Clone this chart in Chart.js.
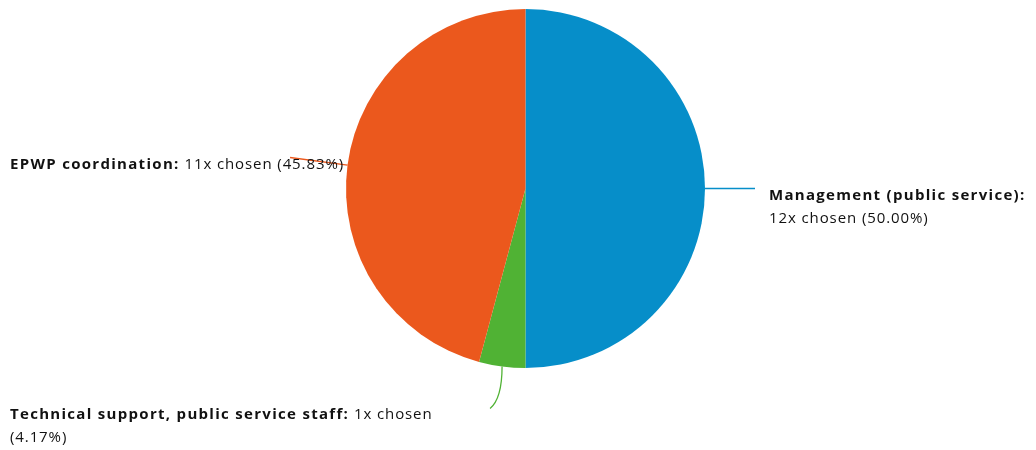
<!DOCTYPE html>
<html>
<head>
<meta charset="utf-8">
<script src="https://cdn.jsdelivr.net/npm/chart.js@4/dist/chart.umd.min.js"></script>
<style>
  html, body { margin: 0; padding: 0; background: #fff; }
  #wrap { width: 1036px; height: 450px; position: relative; }
</style>
</head>
<body>
<div id="wrap"><canvas id="pieChart"></canvas></div>
<script>
// Answer counts, clockwise from the top
const categories = ['Management (public service)', 'Technical support, public service staff', 'EPWP coordination']
const counts = [12, 1, 11]
const colors = ['#068ec9', '#50b234', '#eb581d']

const total = counts.reduce((a, b) => a + b, 0)
const pct = v => (v / total * 100).toFixed(2) + '%'

const FONT = '"Open Sans", "Noto Sans", sans-serif'

// Draw one label: bold name, then the count text, wrapping onto a second line
function drawLabel(ctx, x, y, name, rest, breakAll) {
  ctx.save()
  ctx.fillStyle = '#111'
  ctx.textBaseline = 'alphabetic'
  ctx.textAlign = 'left'
  ctx.font = 'bold 15px ' + FONT
  ctx.letterSpacing = '1.3px'
  ctx.fillText(name, x, y)
  const w = ctx.measureText(name).width
  ctx.font = '15px ' + FONT
  ctx.letterSpacing = '0.9px'
  if (breakAll) {
    ctx.fillText(rest[0] + ' ' + rest[1], x, y + 23)
  } else if (rest[1]) {
    ctx.fillText(' ' + rest[0], x + w, y)
    ctx.fillText(rest[1], x, y + 23)
  } else {
    ctx.fillText(' ' + rest[0], x + w, y)
  }
  ctx.restore()
}

const calloutPlugin = {
  id: 'callouts',
  afterDatasetsDraw(chart) {
    const ctx = chart.ctx
    const arcs = chart.getDatasetMeta(0).data
    arcs.forEach((arc, i) => {
      const p = arc.getProps(['x', 'y', 'startAngle', 'endAngle', 'outerRadius'], true)
      const mid = (p.startAngle + p.endAngle) / 2
      const ex = p.x + Math.cos(mid) * p.outerRadius
      const ey = p.y + Math.sin(mid) * p.outerRadius
      const chosen = counts[i] + 'x chosen'
      const share = '(' + pct(counts[i]) + ')'

      ctx.save()
      ctx.strokeStyle = colors[i]
      ctx.lineWidth = 1.3
      ctx.beginPath()
      ctx.moveTo(ex, ey)
      if (i === 0) {
        ctx.lineTo(ex + 50, ey)
        ctx.stroke()
        ctx.restore()
        drawLabel(ctx, ex + 64, ey + 11, categories[i] + ':', [chosen, share], true)
      } else if (i === 1) {
        ctx.quadraticCurveTo(ex, ey + 32, ex - 12, ey + 42)
        ctx.stroke()
        ctx.restore()
        drawLabel(ctx, 10, ey + 53, categories[i] + ':', [chosen, share], false)
      } else {
        ctx.lineTo(ex + Math.cos(mid) * 58, ey + Math.sin(mid) * 58)
        ctx.stroke()
        ctx.restore()
        drawLabel(ctx, 10, ey + 4, categories[i] + ':', [chosen + ' ' + share], false)
      }
    })
  }
}

new Chart(document.getElementById('pieChart'), {
  type: 'pie',
  data: {
    labels: categories,
    datasets: [{
      data: counts,
      backgroundColor: colors,
      borderWidth: 0
    }]
  },
  options: {
    responsive: true,
    maintainAspectRatio: false,
    animation: false,
    layout: { padding: { top: 9, bottom: 82, left: 15, right: 0 } },
    plugins: {
      legend: { display: false },
      tooltip: { enabled: false }
    }
  },
  plugins: [calloutPlugin]
})
</script>
</body>
</html>
